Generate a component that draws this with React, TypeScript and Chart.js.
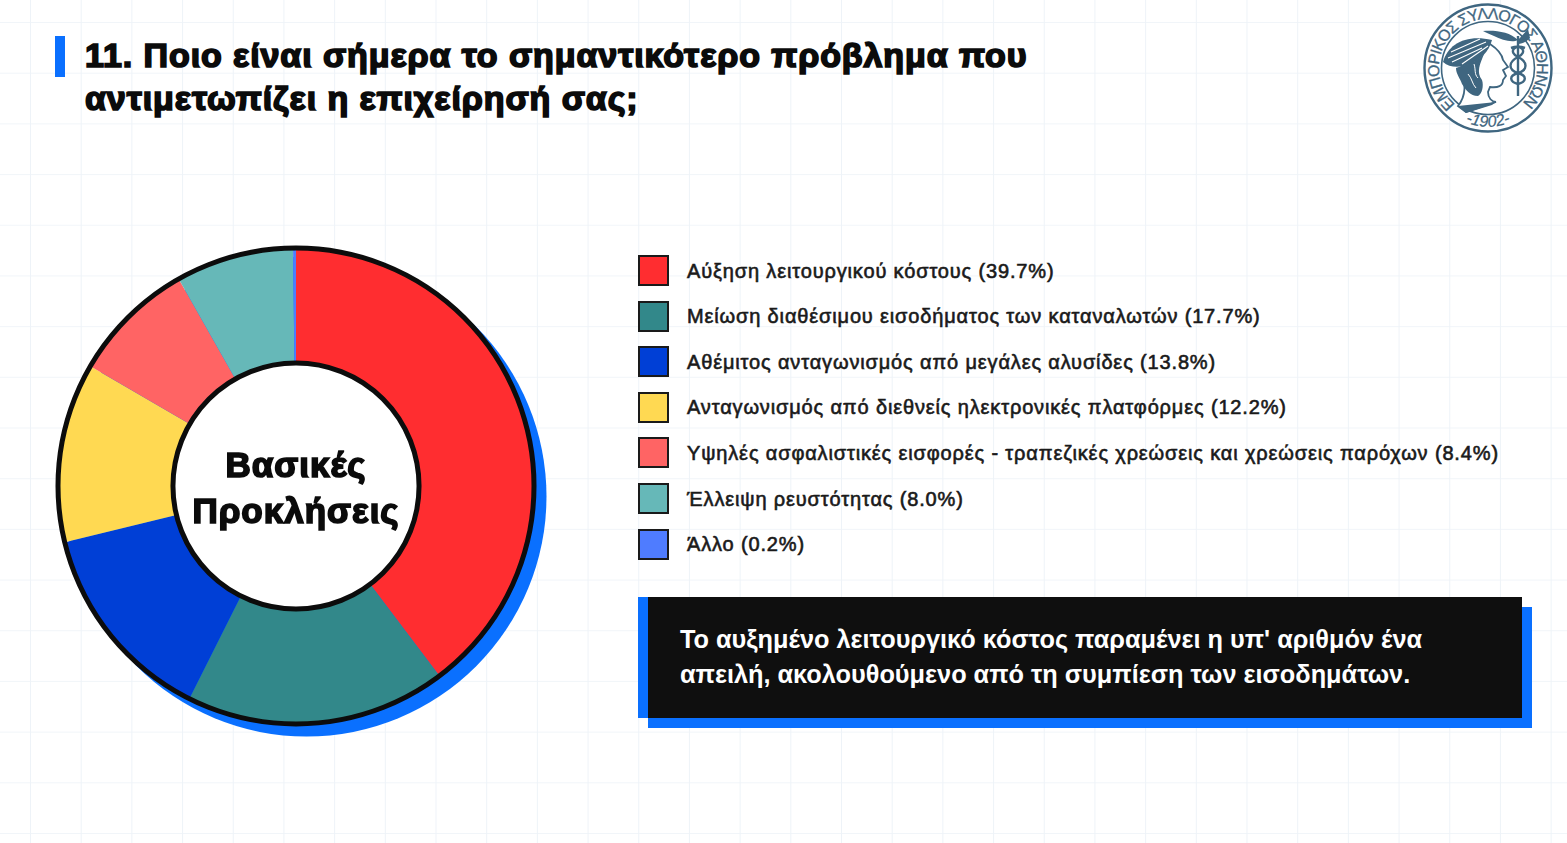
import React, { useEffect, useRef } from "react";
import { Chart, registerables } from "chart.js";

Chart.register(...registerables);

const categories = [
  "Αύξηση λειτουργικού κόστους",
  "Μείωση διαθέσιμου εισοδήματος των καταναλωτών",
  "Αθέμιτος ανταγωνισμός από μεγάλες αλυσίδες",
  "Ανταγωνισμός από διεθνείς ηλεκτρονικές πλατφόρμες",
  "Υψηλές ασφαλιστικές εισφορές - τραπεζικές χρεώσεις και χρεώσεις παρόχων",
  "Έλλειψη ρευστότητας",
  "Άλλο",
];
const values = [39.7, 17.7, 13.8, 12.2, 8.4, 8.0, 0.2];
const colors = ["#FF2D30", "#32888A", "#003FD6", "#FFD952", "#FF6464", "#66B8B8", "#4F7CFF"];
const titleLines = ["11. Ποιο είναι σήμερα το σημαντικότερο πρόβλημα που", "αντιμετωπίζει η επιχείρησή σας;"];
const centerLines = ["Βασικές", "Προκλήσεις"];
const calloutLines = [
  "Το αυξημένο λειτουργικό κόστος παραμένει η υπ' αριθμόν ένα",
  "απειλή, ακολουθούμενο από τη συμπίεση των εισοδημάτων.",
];

const ringPlugin = {
  id: "ring",
  beforeDatasetsDraw(chart: any) {
    const arc = chart.getDatasetMeta(0).data[0];
    const { ctx } = chart;
    ctx.save();
    ctx.fillStyle = "#0A70FF";
    ctx.beginPath();
    ctx.arc(arc.x + 10.5, arc.y + 10.5, arc.outerRadius + 2, 0, Math.PI * 2);
    ctx.fill();
    ctx.restore();
  },
  afterDatasetsDraw(chart: any) {
    const arc = chart.getDatasetMeta(0).data[0];
    const { ctx } = chart;
    ctx.save();
    ctx.strokeStyle = "#0C0C0C";
    ctx.lineWidth = 5;
    ctx.fillStyle = "#FFFFFF";
    ctx.beginPath();
    ctx.arc(arc.x, arc.y, arc.innerRadius, 0, Math.PI * 2);
    ctx.fill();
    ctx.stroke();
    ctx.beginPath();
    ctx.arc(arc.x, arc.y, arc.outerRadius, 0, Math.PI * 2);
    ctx.stroke();
    ctx.restore();
  },
};

function Logo() {
  const c = "#3F6680";
  return (
    <svg width={132} height={132} viewBox="0 0 132 132" style={{ position: "absolute", left: 1422, top: 2 }}>
      <circle cx={66} cy={66} r={63.5} fill="#fff" stroke={c} strokeWidth={2.4} />
      <circle cx={66} cy={66} r={46.5} fill="#fff" stroke={c} strokeWidth={1.6} />
      <defs>
        <path id="logoTop" d="M 33.5 102.6 A 49 49 0 1 1 98.5 102.6" />
        <path id="logoBottom" d="M 21 104 A 59 59 0 0 0 111 104" />
      </defs>
      <text fontFamily="'Liberation Sans'" fontSize={16} fill={c} stroke={c} strokeWidth={0.3}>
        <textPath href="#logoTop" textLength={234} lengthAdjust="spacing">ΕΜΠΟΡΙΚΟΣ ΣΥΛΛΟΓΟΣ ΑΘΗΝΩΝ</textPath>
      </text>
      <text fontFamily="'Liberation Sans'" fontSize={16} fontStyle="italic" fill={c} textAnchor="middle" stroke={c} strokeWidth={0.2}>
        <textPath href="#logoBottom" startOffset="50%">-1902-</textPath>
      </text>
      <path d="M68 42 C74 46 80 52 81 58 L86 65 L81 68 L84 74 L81 78 C81 84 76 86 68 85 L66 90 C66 96 70 100 74 100 L44 110 L36 104 C44 94 44 80 38 66 Z" fill="#fff" stroke={c} strokeWidth={1.8} />
      <path d="M21 60 C26 42 44 32 70 38 C67 50 58 58 48 62 C38 66 28 66 21 60 Z" fill={c} />
      <path d="M26 56 L64 40 M29 50 L58 37 M30 60 L60 46 M40 62 L66 44" stroke="#fff" strokeWidth={1.1} />
      <path d="M34 66 C46 62 54 60 62 52 C58 62 54 70 60 78 C62 84 60 92 56 94 C48 94 44 88 40 82 C38 76 34 72 34 66 Z" fill={c} />
      <path d="M46 72 C50 76 50 82 54 86 M52 62 C54 68 52 72 56 76" stroke="#fff" strokeWidth={1} fill="none" />
      <path d="M36 104 L74 100 L70 103 L44 111 Z" fill={c} />
      <path d="M96 34 L96 94" stroke={c} strokeWidth={2.4} />
      <path d="M61 29 C74 28 88 30 96 38 C90 41 80 38 72 34 C68 32 64 31 61 29 Z" fill={c} />
      <path d="M96 38 L106 27 L108 36 C104 40 100 42 96 42 Z" fill={c} />
      <path d="M89 46 C100 42 106 50 96 55 C86 60 86 68 96 71 C106 74 104 80 96 82 M103 46 C92 42 86 50 96 55 C106 60 106 68 96 71 C86 74 88 80 96 82" fill="none" stroke={c} strokeWidth={2.4} />
    </svg>
  );
}

const heavy: React.CSSProperties = {
  fontFamily: "'Liberation Sans', Arial, sans-serif",
  fontWeight: 700,
  WebkitTextStroke: "1.7px #0B0B0B",
  color: "#0B0B0B",
  whiteSpace: "nowrap",
};

export default function App() {
  const ref = useRef<HTMLCanvasElement>(null);

  useEffect(() => {
    document.body.style.margin = "0";
    const chart = new Chart(ref.current!, {
      type: "doughnut",
      data: {
        labels: categories,
        datasets: [{ data: values, backgroundColor: colors, borderWidth: 0 }],
      },
      options: {
        responsive: false,
        animation: false,
        radius: 238,
        cutout: "51.7%",
        layout: { padding: 0 },
        plugins: { legend: { display: false }, tooltip: { enabled: false }, title: { display: false } },
      } as any,
      plugins: [ringPlugin],
    });
    return () => chart.destroy();
  }, []);

  const grid =
    "linear-gradient(to right, #EEF3F8 1px, transparent 1px), linear-gradient(to bottom, #F1F5F9 1px, transparent 1px)";

  return (
    <div
      style={{
        position: "relative",
        width: 1567,
        height: 843,
        overflow: "hidden",
        backgroundColor: "#fff",
        backgroundImage: grid,
        backgroundSize: "50.7px 50.7px",
        backgroundPosition: "30px 22px",
        fontFamily: "'Liberation Sans', Arial, sans-serif",
      }}
    >
      <div style={{ position: "absolute", left: 55, top: 36, width: 10, height: 41, background: "#0A70FF" }} />
      {titleLines.map((t, i) => (
        <div
          key={t}
          style={{ ...heavy, position: "absolute", left: 85, top: 33 + i * 43, fontSize: 34, lineHeight: "44px", letterSpacing: 0.92 }}
        >
          {t}
        </div>
      ))}

      <Logo />

      <canvas ref={ref} width={520} height={520} style={{ position: "absolute", left: 35.5, top: 226, width: 520, height: 520 }} />
      {centerLines.map((t, i) => (
        <div
          key={t}
          style={{
            ...heavy,
            position: "absolute",
            left: 170,
            width: 252,
            top: 442 + i * 46,
            textAlign: "center",
            fontSize: 35,
            lineHeight: "46px",
            letterSpacing: 1,
          }}
        >
          {t}
        </div>
      ))}

      {categories.map((c, i) => (
        <React.Fragment key={c}>
          <div
            style={{
              position: "absolute",
              left: 638,
              top: 255 + i * 45.6,
              width: 31,
              height: 31,
              boxSizing: "border-box",
              background: colors[i],
              border: "2px solid #1A1A1A",
            }}
          />
          <div
            style={{
              position: "absolute",
              left: 687,
              top: 255.5 + i * 45.6,
              fontSize: 20,
              lineHeight: "30px",
              fontWeight: 400,
              letterSpacing: 0.85,
              WebkitTextStroke: "0.6px #1A1A1A",
              color: "#1A1A1A",
              whiteSpace: "nowrap",
            }}
          >
            {`${c} (${values[i].toFixed(1)}%)`}
          </div>
        </React.Fragment>
      ))}

      <div
        style={{
          position: "absolute",
          left: 638,
          top: 597,
          width: 884,
          height: 121,
          boxSizing: "border-box",
          background: "#0F0F0F",
          borderLeft: "10px solid #0A70FF",
          boxShadow: "10px 10px 0 #0A70FF",
          color: "#fff",
          paddingLeft: 32,
          paddingTop: 25,
          fontSize: 25.3,
          lineHeight: "35px",
          fontWeight: 700,
          whiteSpace: "nowrap",
        }}
      >
        {calloutLines.map((l) => (
          <div key={l}>{l}</div>
        ))}
      </div>
    </div>
  );
}
